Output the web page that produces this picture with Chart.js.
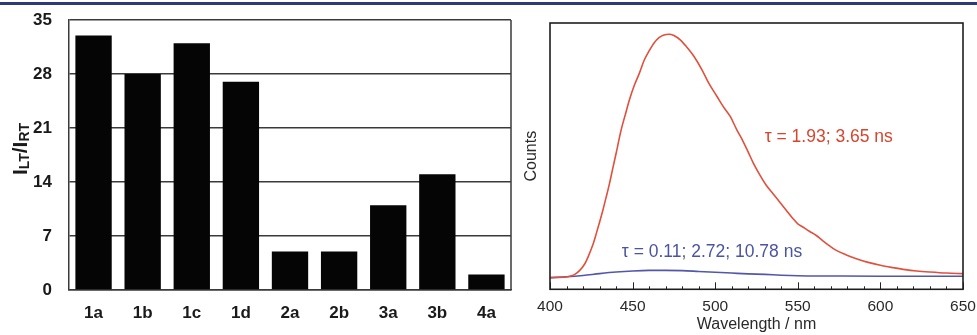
<!DOCTYPE html>
<html><head><meta charset="utf-8">
<script src="https://cdn.jsdelivr.net/npm/chart.js@4/dist/chart.umd.min.js"></script>
<style>
html,body{margin:0;padding:0;background:#fff;width:977px;height:335px;overflow:hidden;}
#topline{position:absolute;left:0;top:2px;width:977px;height:3px;background:#2e3a7c;}
#c1{position:absolute;left:0;top:0;}
#c2{position:absolute;left:520px;top:0;}
</style></head><body>
<div id="topline"></div>
<canvas id="c1" width="520" height="335"></canvas>
<canvas id="c2" width="457" height="335"></canvas>
<script>
// ---- Data: left bar chart ----
const compounds = ['1a','1b','1c','1d','2a','2b','3a','3b','4a'];
const ratioLTtoRT = [33, 28, 32, 27, 5, 5, 11, 15, 2];
const ratioTicks = [0, 7, 14, 21, 28, 35];

// ---- Data: right emission spectra ----
const redWavelength = [400,408,412,415,418,421,423,426,428,430,432,434,436,438,440,443,446,448,451,454,457,460,463,466,469,472,475,479,483,487,492,496,501,505,509,513,517,520,523,527,531,535,539,543,547,550,553,557,561,565,569,573,579,585,592,600,608,615,622,630,640,650];
const redCounts     = [4.4,4.5,4.9,5.6,7.1,9.5,12.1,16.8,20.9,25.2,29.7,34.6,39.7,45.4,51,59.7,66.5,71,76.5,81,86,89.5,92.5,94.5,95.5,95.8,95.3,93.6,90.8,87.6,82.4,77.5,72.5,68.5,65,60,55.4,51.5,47.5,43,39,35.9,32.8,29.7,26.6,24.6,23.4,21.8,20.3,18.3,16.4,14.7,13,11.6,10.2,9,8.1,7.4,6.9,6.5,6.1,5.9];
const blueWavelength = [400,410,420,430,440,450,460,470,480,490,500,510,520,530,540,550,570,600,650];
const blueCounts     = [4.4,4.7,5.2,5.9,6.5,6.9,7.1,7.1,7.0,6.7,6.4,6.1,5.8,5.6,5.3,5.1,5.0,4.9,4.9];
const wavelengthTicks = [400, 450, 500, 550, 600, 650];
const redLabel = 'τ = 1.93; 3.65 ns';
const blueLabel = 'τ = 0.11; 2.72; 10.78 ns';

const SANS = '"Liberation Sans", Arial, Helvetica, sans-serif';
const GRID = '#3a3a3a';
const NONE = 'rgba(0,0,0,0)';

// ---------- Left chart ----------
const leftDeco = {
  id: 'leftDeco',
  afterDraw(chart) {
    const ctx = chart.ctx, a = chart.chartArea;
    ctx.save();
    ctx.strokeStyle = GRID; ctx.lineWidth = 1.5;
    ctx.beginPath(); ctx.moveTo(a.right, a.top); ctx.lineTo(a.right, a.bottom); ctx.stroke();
    // y-axis title with subscripts: I_LT / I_RT
    const parts = [['I', 21, 0], ['LT', 14, 2], ['/', 21, 0], ['I', 21, 0], ['RT', 14, 2]];
    ctx.fillStyle = '#1a1a1a';
    ctx.textBaseline = 'alphabetic';
    let total = 0;
    parts.forEach(p => { ctx.font = 'bold ' + p[1] + 'px ' + SANS; total += ctx.measureText(p[0]).width; });
    ctx.translate(27, 149);
    ctx.rotate(-Math.PI / 2);
    let x = -total / 2;
    parts.forEach(p => {
      ctx.font = 'bold ' + p[1] + 'px ' + SANS;
      ctx.fillText(p[0], x, p[2]);
      x += ctx.measureText(p[0]).width;
    });
    ctx.restore();
  }
};

new Chart(document.getElementById('c1'), {
  type: 'bar',
  data: {
    labels: compounds,
    datasets: [{ data: ratioLTtoRT, backgroundColor: '#050505', borderWidth: 0,
                 barPercentage: 0.74, categoryPercentage: 1.0 }]
  },
  options: {
    responsive: false, devicePixelRatio: 1, animation: false,
    layout: { padding: { top: 20, right: 9, left: 0, bottom: 0 } },
    plugins: { legend: { display: false }, tooltip: { enabled: false } },
    scales: {
      x: {
        grid: { display: false, drawTicks: true, tickLength: 12, tickColor: NONE },
        border: { display: true, color: GRID, width: 1.5 },
        ticks: { font: { family: SANS, weight: 'bold', size: 17 }, color: '#1a1a1a', padding: 1 },
        afterFit(s) { s.height = 45; }
      },
      y: {
        min: 0, max: 35,
        afterBuildTicks(s) { s.ticks = ratioTicks.map(v => ({ value: v })); },
        grid: { color: GRID, lineWidth: 1.5, drawTicks: true, tickLength: 15, tickColor: NONE },
        border: { display: true, color: GRID, width: 1.5 },
        ticks: { font: { family: SANS, weight: 'bold', size: 17 }, color: '#1a1a1a', padding: 2 },
        afterFit(s) { s.width = 69; }
      }
    }
  },
  plugins: [leftDeco]
});

// ---------- Right chart ----------
const labelPos = { red: [530, 57], blue: [443.5, 14] };
const rightDeco = {
  id: 'rightDeco',
  afterDraw(chart) {
    const ctx = chart.ctx, a = chart.chartArea, xs = chart.scales.x, ys = chart.scales.y;
    ctx.save();
    // minor & major ticks inside bottom edge
    ctx.strokeStyle = '#222'; ctx.lineWidth = 1;
    for (let v = xs.min; v <= xs.max; v += 10) {
      const px = Math.round(xs.getPixelForValue(v)) + 0.5;
      const len = (v % 50 === 0) ? 7 : 3;
      ctx.beginPath(); ctx.moveTo(px, a.bottom); ctx.lineTo(px, a.bottom - len); ctx.stroke();
    }
    // frame
    ctx.strokeStyle = '#1e1e1e'; ctx.lineWidth = 1.6;
    ctx.strokeRect(a.left, a.top, a.right - a.left, a.bottom - a.top);
    // annotations
    ctx.font = '17.5px ' + SANS;
    ctx.textBaseline = 'middle';
    ctx.fillStyle = '#d8452f';
    ctx.fillText(redLabel, xs.getPixelForValue(labelPos.red[0]), ys.getPixelForValue(labelPos.red[1]));
    ctx.fillStyle = '#4b54a0';
    ctx.fillText(blueLabel, xs.getPixelForValue(labelPos.blue[0]), ys.getPixelForValue(labelPos.blue[1]));
    ctx.restore();
  }
};

new Chart(document.getElementById('c2'), {
  type: 'line',
  data: {
    datasets: [
      { data: redWavelength.map((w, i) => ({ x: w, y: redCounts[i] })),
        borderColor: '#e0503c', borderWidth: 1.6, pointRadius: 0, cubicInterpolationMode: 'monotone', fill: false },
      { data: blueWavelength.map((w, i) => ({ x: w, y: blueCounts[i] })),
        borderColor: '#5257aa', borderWidth: 1.6, pointRadius: 0, cubicInterpolationMode: 'monotone', fill: false }
    ]
  },
  options: {
    responsive: false, devicePixelRatio: 1, animation: false,
    layout: { padding: { top: 23, right: 14, left: 0, bottom: 0 } },
    plugins: { legend: { display: false }, tooltip: { enabled: false } },
    scales: {
      x: {
        type: 'linear', min: 400, max: 650,
        afterBuildTicks(s) { s.ticks = wavelengthTicks.map(v => ({ value: v })); },
        grid: { display: false, drawTicks: true, tickLength: 8, tickColor: NONE },
        border: { display: false },
        ticks: { font: { family: SANS, size: 15.5 }, color: '#2a2a2a', padding: 0, maxRotation: 0 },
        title: { display: true, text: 'Wavelength / nm', font: { family: SANS, size: 16 }, color: '#2a2a2a', padding: { top: 0, bottom: 1 } },
        afterFit(s) { s.height = 45.7; }
      },
      y: {
        min: 0, max: 100,
        grid: { display: false, drawTicks: false },
        border: { display: false },
        ticks: { display: false },
        title: { display: true, text: 'Counts', font: { family: SANS, size: 16 }, color: '#2a2a2a', padding: { top: 2, bottom: 0 } },
        afterFit(s) { s.width = 30; }
      }
    }
  },
  plugins: [rightDeco]
});
</script>
</body></html>
